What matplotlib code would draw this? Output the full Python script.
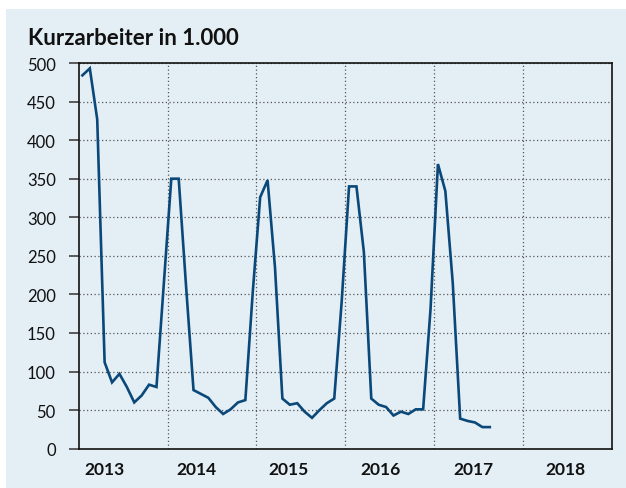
import numpy as np
import matplotlib.pyplot as plt
from matplotlib.patches import Rectangle

# Kurzarbeiter (in 1.000), monthly values Jan 2013 - Aug 2017
values_2013 = [484, 493, 427, 112, 86, 97, 80, 60, 69, 83, 80, 215]
values_2014 = [350, 350, 210, 76, 71, 66, 54, 45, 51, 60, 63, 203]
values_2015 = [326, 348, 235, 65, 57, 59, 48, 40, 50, 59, 65, 190]
values_2016 = [340, 340, 255, 65, 57, 54, 43, 48, 45, 51, 51, 181]
values_2017 = [369, 334, 215, 39, 36, 34, 28, 28]
year_labels = ["2013", "2014", "2015", "2016", "2017", "2018"]
y_ticks = [0, 50, 100, 150, 200, 250, 300, 350, 400, 450, 500]

values = values_2013 + values_2014 + values_2015 + values_2016 + values_2017
months = np.arange(len(values))
x = 2013 + (months + 0.5) / 12.0

bg = "#e3eef5"
line_color = "#0a4879"
W, H = 626, 489

fig = plt.figure(figsize=(W / 100, H / 100), dpi=100, facecolor="white")
fig.patches.append(Rectangle((6 / W, 0), 1, 1 - 10 / H, transform=fig.transFigure,
                             facecolor=bg, edgecolor="none", zorder=-10))

ax = fig.add_axes([78.7 / W, 1 - 449.7 / H, (612 - 78.7) / W, (449.7 - 64) / H])
ax.set_facecolor(bg)

ax.plot(x, values, color=line_color, lw=1.9, solid_joinstyle="miter", zorder=3)

ax.set_xlim(2013, 2019)
ax.set_ylim(0, 500)
ax.set_yticks(y_ticks)
ax.set_xticks(range(2014, 2019))
ax.set_xticklabels([])
ax.tick_params(axis="x", length=0)
ax.tick_params(axis="y", length=7, width=1.1, color="#333333", pad=9.5,
               labelsize=12, labelcolor="#111111")
for lbl in ax.get_yticklabels():
    lbl.set_family("Lato")

ax.grid(True, color="#555555", lw=0.9, linestyle=(0, (1, 2)))
ax.set_axisbelow(True)
for s in ax.spines.values():
    s.set_color("#111111")
    s.set_linewidth(1.2)

# year labels under the axis
for i, lab in enumerate(year_labels):
    ax.text((104.2 - 78.7 + i * 92.2) / (612 - 78.7), -20.5 / (449.7 - 64), lab,
            transform=ax.transAxes, ha="center", va="center",
            fontsize=12.5, fontweight="bold", family="Lato", color="#111111")

fig.text(28 / W, 1 - 45 / H, "Kurzarbeiter in 1.000", ha="left", va="baseline",
         fontsize=16, fontweight="bold", family="Lato", color="#111111")

fig.savefig("out.png", dpi=100, facecolor="white")
